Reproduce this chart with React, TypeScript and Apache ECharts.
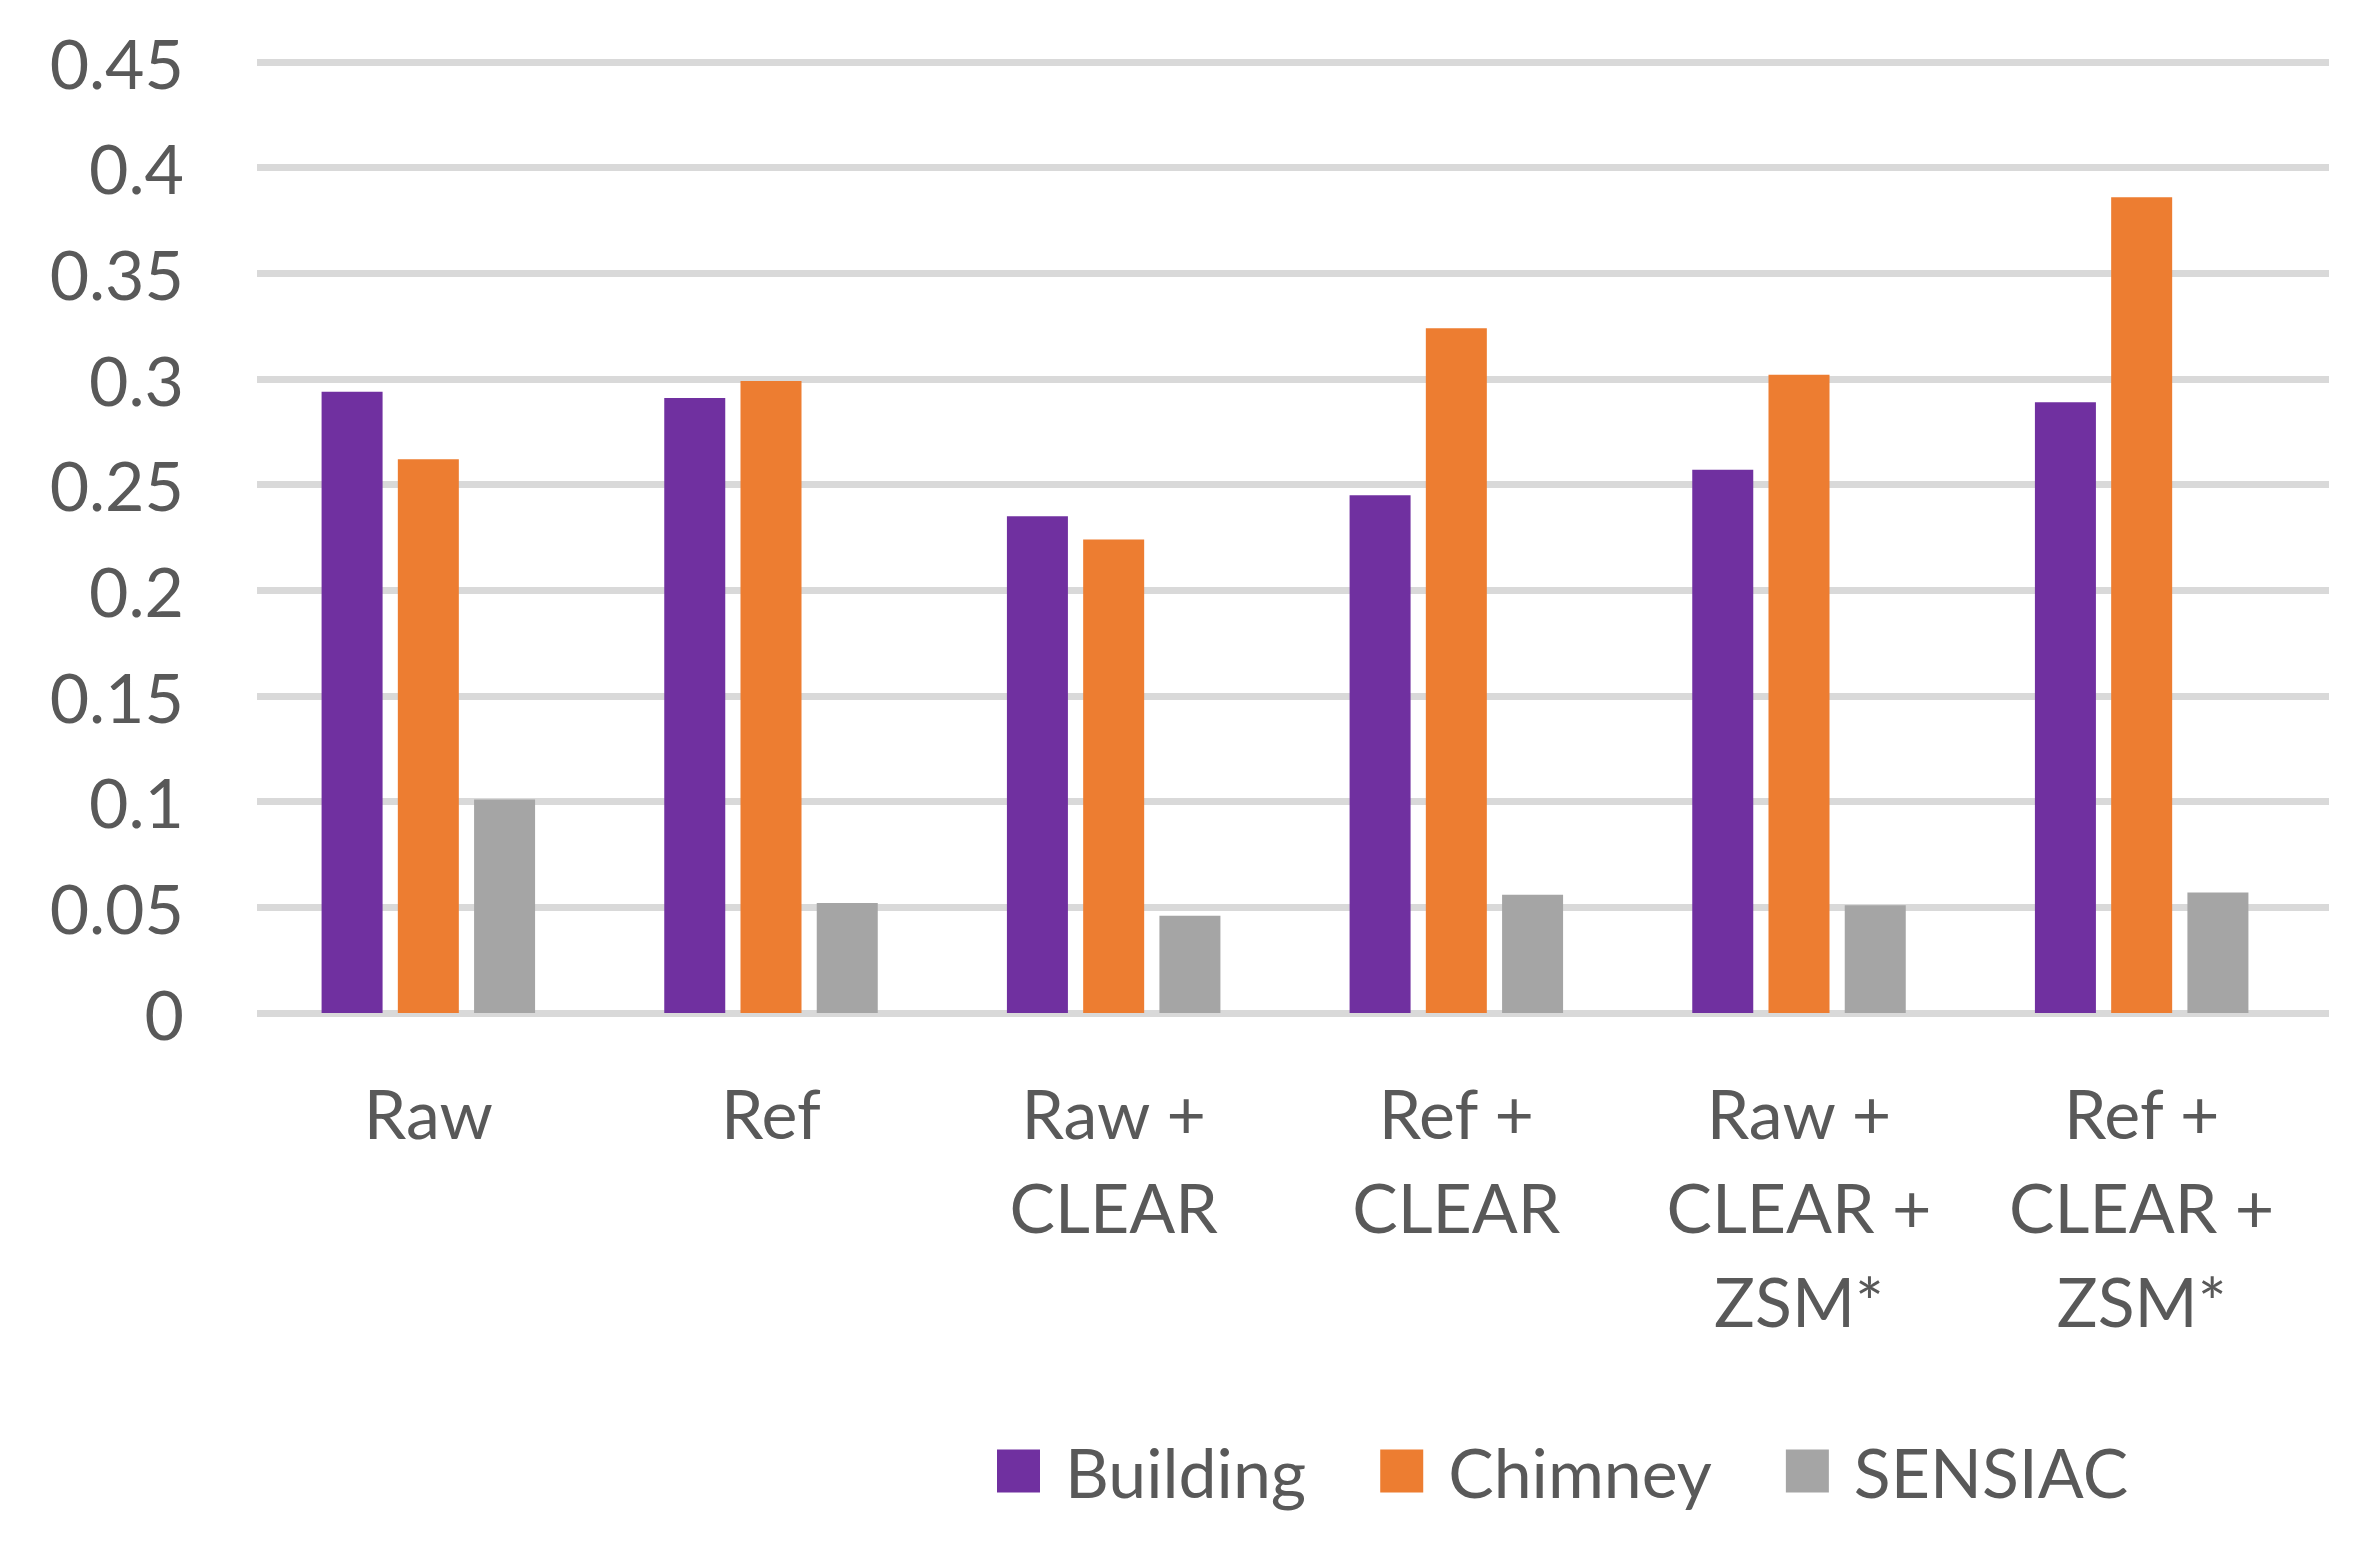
import React, { useEffect, useRef } from "react";
import * as echarts from "echarts";

const categories = [
  "Raw",
  "Ref",
  "Raw +\nCLEAR",
  "Ref +\nCLEAR",
  "Raw +\nCLEAR +\nZSM*",
  "Ref +\nCLEAR +\nZSM*",
];
const seriesNames = ["Building", "Chimney", "SENSIAC"];
const building = [0.294, 0.291, 0.235, 0.245, 0.257, 0.289];
const chimney = [0.262, 0.299, 0.224, 0.324, 0.302, 0.386];
const sensiac = [0.101, 0.052, 0.046, 0.056, 0.051, 0.057];
const colors = ["#7030A0", "#ED7D31", "#A5A5A5"];
const yMin = 0;
const yMax = 0.45;
const yInterval = 0.05;

export default function App() {
  const ref = useRef<HTMLDivElement>(null);
  useEffect(() => {
    if (!ref.current) return;
    const chart = echarts.init(ref.current, null, { renderer: "svg" });
    const font = "Lato";
    const textColor = "#595959";
    const values = [building, chimney, sensiac];
    chart.setOption({
      animation: false,
      backgroundColor: "#ffffff",
      grid: [
        { left: 257, right: 41, top: 62, height: 951, containLabel: false },
        { left: 257, right: 57, top: 62, height: 951, containLabel: false },
      ],
      legend: {
        data: seriesNames,
        left: 992,
        top: 1432,
        itemWidth: 43,
        itemHeight: 43,
        itemGap: 74,
        icon: "rect",
        textStyle: {
          fontFamily: font,
          fontSize: 68,
          color: textColor,
          lineHeight: 68,
          padding: [0, 0, 0, 20],
        },
      },
      xAxis: [
        {
          type: "category",
          gridIndex: 0,
          data: categories,
          show: false,
        },
        {
          type: "category",
          gridIndex: 1,
          data: categories,
          axisLine: { show: false },
          axisTick: { show: false },
          axisLabel: {
            interval: 0,
            margin: 52,
            fontFamily: font,
            fontSize: 68,
            lineHeight: 94,
            color: textColor,
          },
        },
      ],
      yAxis: [
        {
          type: "value",
          gridIndex: 0,
          min: yMin,
          max: yMax,
          interval: yInterval,
          axisLine: { show: false },
          axisTick: { show: false },
          splitLine: { show: true, lineStyle: { color: "#D9D9D9", width: 7 } },
          axisLabel: {
            margin: 73,
            fontFamily: font,
            fontSize: 68,
            color: textColor,
            formatter: (v: number) => String(parseFloat(v.toFixed(2))),
          },
        },
        {
          type: "value",
          gridIndex: 1,
          min: yMin,
          max: yMax,
          interval: yInterval,
          show: false,
          splitLine: { show: false },
        },
      ],
      series: seriesNames.map((name, i) => ({
        name,
        type: "bar",
        xAxisIndex: 1,
        yAxisIndex: 1,
        data: values[i],
        barWidth: 61,
        barGap: "25%",
        itemStyle: { color: colors[i] },
      })),
    });
    return () => chart.dispose();
  }, []);
  return (
    <div
      ref={ref}
      style={{ position: "fixed", left: 0, top: 0, width: 2370, height: 1551, background: "#fff" }}
    />
  );
}
